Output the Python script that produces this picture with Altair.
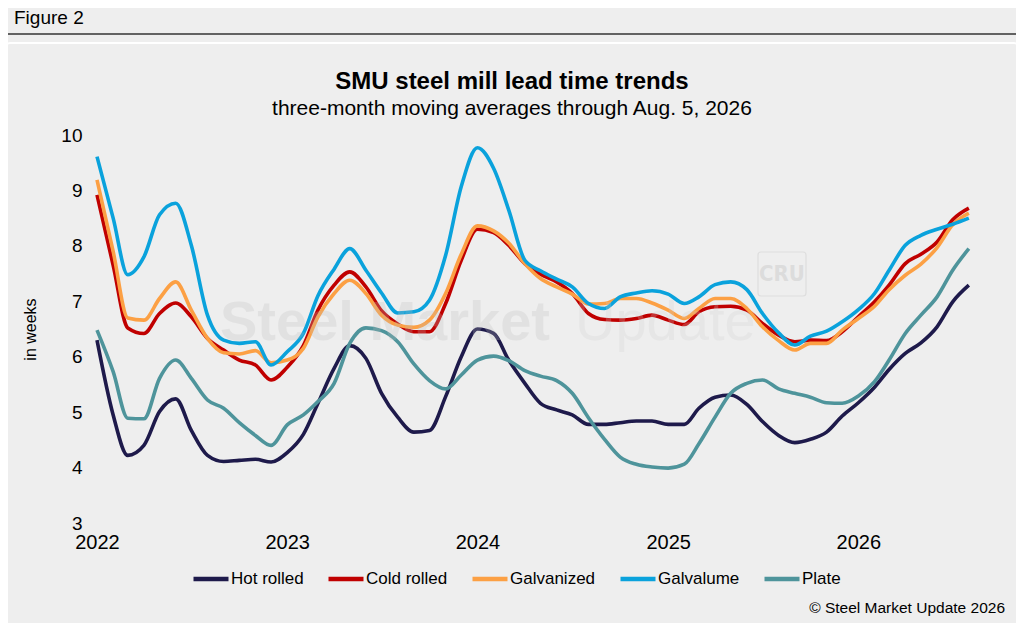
import altair as alt
import pandas as pd

# ---- data (monthly, Jan 2022 .. Aug 2026) ----
dates = [d.strftime("%Y-%m-%dT00:00:00") for d in pd.date_range("2022-01-01", "2026-08-01", freq="MS")]

series_names = ["Hot rolled", "Cold rolled", "Galvanized", "Galvalume", "Plate"]
series_colors = ["#1e1a4b", "#c00000", "#fca044", "#0aa2dc", "#4e949b"]

hot_rolled = [6.30, 4.95, 4.22, 4.40, 5.01, 5.24, 4.67, 4.22, 4.11, 4.13,
              4.15, 4.10, 4.27, 4.60, 5.16, 5.79, 6.20, 5.97, 5.34, 4.91,
              4.64, 4.67, 5.28, 6.00, 6.50, 6.42, 5.94, 5.52, 5.16, 5.04,
              4.95, 4.78, 4.78, 4.81, 4.84, 4.84, 4.78, 4.78, 5.07, 5.27,
              5.31, 5.14, 4.83, 4.58, 4.45, 4.51, 4.64, 4.93, 5.17, 5.45,
              5.77, 6.06, 6.25, 6.54, 6.99, 7.29]
cold_rolled = [8.92, 7.65, 6.52, 6.42, 6.78, 6.97, 6.72, 6.33, 6.12, 5.94,
               5.85, 5.58, 5.81, 6.20, 6.84, 7.29, 7.53, 7.26, 6.83, 6.59,
               6.45, 6.45, 6.96, 7.74, 8.30, 8.24, 8.01, 7.68, 7.49, 7.35,
               7.14, 6.78, 6.67, 6.66, 6.69, 6.75, 6.66, 6.58, 6.81, 6.90,
               6.91, 6.84, 6.60, 6.39, 6.27, 6.30, 6.29, 6.45, 6.72, 6.99,
               7.29, 7.68, 7.85, 8.07, 8.47, 8.68]
galvanized = [9.19, 7.90, 6.70, 6.66, 7.05, 7.35, 6.84, 6.33, 6.07, 6.05,
              6.11, 5.89, 5.94, 6.15, 6.72, 7.14, 7.38, 7.14, 6.75, 6.57,
              6.53, 6.66, 7.14, 7.85, 8.36, 8.27, 8.05, 7.68, 7.41, 7.26,
              7.13, 6.95, 6.96, 7.05, 7.05, 6.97, 6.84, 6.69, 6.87, 7.05,
              7.05, 6.87, 6.54, 6.29, 6.12, 6.24, 6.24, 6.48, 6.69, 6.91,
              7.21, 7.47, 7.67, 7.97, 8.38, 8.59]
galvalume = [9.61, 8.50, 7.48, 7.80, 8.56, 8.77, 8.01, 6.75, 6.30, 6.24,
             6.27, 5.85, 6.09, 6.42, 7.10, 7.58, 7.95, 7.56, 7.15, 6.79,
             6.81, 7.02, 7.83, 9.07, 9.77, 9.40, 8.65, 7.74, 7.55, 7.40,
             7.26, 6.96, 6.87, 7.08, 7.15, 7.19, 7.13, 6.96, 7.08, 7.30,
             7.35, 7.21, 6.78, 6.43, 6.21, 6.37, 6.46, 6.63, 6.85, 7.14,
             7.56, 8.01, 8.19, 8.30, 8.39, 8.50]
plate = [6.48, 5.73, 4.89, 4.88, 5.61, 5.94, 5.61, 5.22, 5.07, 4.81,
         4.58, 4.40, 4.77, 4.95, 5.19, 5.52, 6.24, 6.52, 6.47, 6.27,
         5.87, 5.57, 5.42, 5.67, 5.94, 6.01, 5.93, 5.75, 5.65, 5.57,
         5.34, 4.90, 4.51, 4.19, 4.06, 4.01, 3.99, 4.06, 4.43, 4.91,
         5.34, 5.52, 5.58, 5.42, 5.34, 5.27, 5.17, 5.16, 5.29, 5.55,
         5.94, 6.42, 6.75, 7.08, 7.56, 7.95]

year_ticks = [2022, 2023, 2024, 2025, 2026]
y_ticks = [3, 4, 5, 6, 7, 8, 9, 10]

title_text = "SMU steel mill lead time trends"
subtitle_text = "three-month moving averages through Aug. 5, 2026"
figure_label = "Figure 2"
copyright_text = "\u00a9 Steel Market Update 2026"

# ---- long table ----
all_values = [hot_rolled, cold_rolled, galvanized, galvalume, plate]
rows = []
for name, vals in zip(series_names, all_values):
    for d, v in zip(dates, vals):
        rows.append({"date": d, "series": name, "value": v})
df = pd.DataFrame(rows)

FONT = "Liberation Sans"
W, H = 888, 388

lines = alt.Chart(df).mark_line(strokeWidth=3.6, interpolate="monotone").encode(
    x=alt.X(
        "date:T",
        scale=alt.Scale(domain=[alt.DateTime(year=2022, month=1, date=1),
                                alt.DateTime(year=2026, month=9, date=1)]),
        axis=alt.Axis(
            title=None, format="%Y", grid=False, domain=False, ticks=False,
            values=[alt.DateTime(year=y, month=1, date=1) for y in year_ticks],
            labelFontSize=20, labelPadding=9, labelColor="#000000", labelFont=FONT,
            labelFlush=False,
        ),
    ),
    y=alt.Y(
        "value:Q",
        scale=alt.Scale(domain=[3, 10], nice=False, zero=False),
        axis=alt.Axis(
            title="in weeks", values=y_ticks, grid=False, domain=False, ticks=False,
            labelFontSize=19, labelPadding=15, labelColor="#000000", labelFont=FONT,
            titleFontSize=16, titleFontWeight="normal", titleColor="#000000", titleFont=FONT,
            titleX=-62, titleY=H / 2, titleAngle=270, titleAlign="center",
            titleBaseline="alphabetic",
        ),
    ),
    color=alt.Color(
        "series:N",
        scale=alt.Scale(domain=series_names, range=series_colors),
        legend=alt.Legend(
            orient="none", legendX=94, legendY=424, direction="horizontal",
            title=None, symbolType="stroke", symbolSize=1225, symbolStrokeWidth=4.5,
            labelFontSize=17, labelFont=FONT, labelColor="#000000",
            labelOffset=0, columnPadding=15,
        ),
    ),
)


def label(txt, x, y, **kw):
    return alt.Chart(pd.DataFrame({"t": [txt]})).mark_text(font=FONT, **kw).encode(
        text="t:N", x=alt.value(x), y=alt.value(y))


one = pd.DataFrame({"a": [0]})

frame = alt.Chart(one).mark_rect(
    fillOpacity=0, stroke="#ffffff", strokeWidth=2, cornerRadius=4
).encode(x=alt.value(-91), x2=alt.value(921), y=alt.value(-92), y2=alt.value(490))

top_rule = alt.Chart(one).mark_rule(color="#333333", strokeWidth=1.5).encode(
    x=alt.value(-91), x2=alt.value(920), y=alt.value(-101))

fig_label = label(figure_label, -83, -111, fontSize=19, align="left",
                  baseline="alphabetic", color="#000000")
title = label(title_text, 415, -46.5, fontSize=24, fontWeight="bold", align="center",
              baseline="alphabetic", color="#000000")
subtitle = label(subtitle_text, 415, -20, fontSize=21, align="center",
                 baseline="alphabetic", color="#000000")
copyright_mark = label(copyright_text, 908, 478, fontSize=15.5, align="right",
                       baseline="alphabetic", color="#000000")

wm1 = label("Steel Market", 123, 205, fontSize=56, fontWeight="bold", align="left",
            baseline="alphabetic", color="#bdbdbd", opacity=0.25)
wm2 = label("Update", 478, 205, fontSize=56, align="left",
            baseline="alphabetic", color="#cfcfcf", opacity=0.25)
cru_box = alt.Chart(one).mark_rect(
    fillOpacity=0, stroke="#dedede", strokeWidth=1.2, cornerRadius=3
).encode(x=alt.value(661), x2=alt.value(709), y=alt.value(117), y2=alt.value(161))
cru = alt.Chart(pd.DataFrame({"t": ["CRU"]})).mark_text(
    font="DejaVu Sans Condensed", fontSize=22, fontWeight="bold", color="#dcdcdc",
    align="center", baseline="middle"
).encode(text="t:N", x=alt.value(685), y=alt.value(139))

chart = alt.layer(
    frame, top_rule, fig_label, title, subtitle, copyright_mark, cru_box, cru,
    lines, wm1, wm2,
).properties(
    width=W, height=H,
    padding={"left": 89, "top": 127, "right": 31, "bottom": 100},
    autosize=alt.AutoSizeParams(type="none"),
).configure(
    background="#eeeeee", font=FONT,
).configure_view(stroke=None)

chart.save("out.html", embed_options={"renderer": "svg", "actions": False})
